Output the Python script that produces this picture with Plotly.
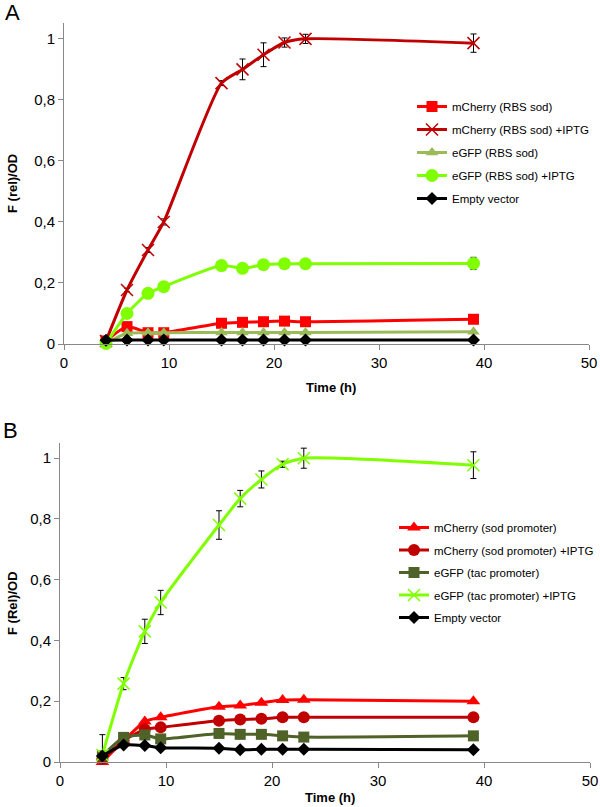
import plotly.graph_objects as go

# ---------------- data ----------------
time_h = [4, 6, 8, 9.5, 15, 17, 19, 21, 23, 39]

# Panel A
a_names = ["mCherry (RBS sod)", "mCherry (RBS sod) +IPTG", "eGFP (RBS sod)",
           "eGFP (RBS sod) +IPTG", "Empty vector"]
a_mcherry = [0.010, 0.057, 0.037, 0.037, 0.068, 0.071, 0.073, 0.075, 0.073, 0.081]
a_mcherry_iptg = [0.010, 0.177, 0.308, 0.400, 0.855, 0.900, 0.948, 0.988, 1.000, 0.986]
a_mcherry_iptg_err = [0.003, 0.006, 0.008, 0.010, 0.008, 0.034, 0.039, 0.015, 0.015, 0.030]
a_egfp = [0.002, 0.035, 0.037, 0.037, 0.038, 0.038, 0.038, 0.038, 0.038, 0.040]
a_egfp_iptg = [0.002, 0.100, 0.166, 0.188, 0.257, 0.248, 0.260, 0.263, 0.263, 0.264]
a_egfp_iptg_err = [0.0, 0.0, 0.0, 0.0, 0.0, 0.0, 0.0, 0.0, 0.0, 0.020]
a_empty = [0.012, 0.013, 0.013, 0.013, 0.013, 0.013, 0.013, 0.013, 0.013, 0.013]

# Panel B
b_names = ["mCherry (sod promoter)", "mCherry (sod promoter) +IPTG", "eGFP (tac promoter)",
           "eGFP (tac promoter) +IPTG", "Empty vector"]
b_mcherry = [0.000, 0.070, 0.133, 0.147, 0.182, 0.186, 0.195, 0.204, 0.205, 0.200]
b_mcherry_iptg = [0.010, 0.070, 0.107, 0.114, 0.136, 0.140, 0.142, 0.147, 0.147, 0.147]
b_egfp = [0.020, 0.081, 0.089, 0.076, 0.094, 0.091, 0.091, 0.086, 0.082, 0.086]
b_egfp_iptg = [0.023, 0.258, 0.430, 0.525, 0.780, 0.867, 0.930, 0.980, 1.000, 0.977]
b_egfp_iptg_err = [0.067, 0.020, 0.040, 0.040, 0.047, 0.027, 0.028, 0.010, 0.033, 0.044]
b_empty = [0.020, 0.056, 0.054, 0.047, 0.045, 0.040, 0.042, 0.042, 0.042, 0.040]

x_ticks = [0, 10, 20, 30, 40, 50]
y_ticks = [0, 0.2, 0.4, 0.6, 0.8, 1]
y_ticktext = ["0", "0,2", "0,4", "0,6", "0,8", "1"]

# ---------------- figure ----------------
W, H = 600, 807
fig = go.Figure()

FONT = "Liberation Sans, Arial, Helvetica, sans-serif"


def add(x, y, name, color, symbol, msize, xa, ya, legend, err=None, mline=None, group=None):
    marker = dict(color=color, size=msize, symbol=symbol)
    if mline:
        marker["line"] = dict(color=color, width=mline)
    kw = {}
    if err is not None:
        kw["error_y"] = dict(type="data", array=err, visible=True, color="black",
                             thickness=1, width=3)
    fig.add_trace(go.Scatter(
        x=x, y=y, name=name, mode="lines+markers",
        line=dict(color=color, width=3, shape="spline", smoothing=0.6),
        marker=marker, xaxis=xa, yaxis=ya, legend=legend,
        legendgroup=group, cliponaxis=False, **kw))


# Panel A traces
add(time_h, a_mcherry, a_names[0], "#FF0000", "square", 11, "x", "y", "legend", group="a0")
add(time_h, a_mcherry_iptg, a_names[1], "#C00000", "x-thin-open", 12, "x", "y", "legend",
    err=a_mcherry_iptg_err, mline=1.5, group="a1")
add(time_h, a_egfp, a_names[2], "#9BBB59", "triangle-up", 11, "x", "y", "legend", group="a2")
add(time_h, a_egfp_iptg, a_names[3], "#7FFF00", "circle", 13, "x", "y", "legend",
    err=a_egfp_iptg_err, group="a3")
add(time_h, a_empty, a_names[4], "#000000", "diamond", 10, "x", "y", "legend", group="a4")

# Panel B traces
add(time_h, b_mcherry, b_names[0], "#FF0000", "triangle-up", 12, "x2", "y2", "legend2", group="b0")
add(time_h, b_mcherry_iptg, b_names[1], "#C00000", "circle", 12, "x2", "y2", "legend2", group="b1")
add(time_h, b_egfp, b_names[2], "#4F6228", "square", 11, "x2", "y2", "legend2", group="b2")
add(time_h, b_egfp_iptg, b_names[3], "#80FF00", "x-thin-open", 12, "x2", "y2", "legend2",
    err=b_egfp_iptg_err, mline=1.5, group="b3")
add(time_h, b_empty, b_names[4], "#000000", "diamond", 10, "x2", "y2", "legend2", group="b4")

axis_common = dict(showgrid=False, zeroline=False, showline=True, linecolor="#888888",
                   linewidth=1, ticks="outside", tickcolor="#888888", ticklen=5,
                   automargin=False,
                   tickfont=dict(family=FONT, size=15, color="black"))


# screen pixel -> paper fractions
def px_x(p):
    return p / W


def px_y(p):
    return 1 - p / H


fig.update_layout(
    width=W, height=H,
    margin=dict(l=0, r=0, t=0, b=0, autoexpand=False),
    paper_bgcolor="white", plot_bgcolor="white",
    showlegend=True,
    xaxis=dict(domain=[px_x(64), px_x(589)], range=[0, 50], tickvals=x_ticks, anchor="y",
               **axis_common),
    yaxis=dict(domain=[px_y(344), px_y(23)], range=[0, 1.052], tickvals=y_ticks,
               ticktext=y_ticktext, anchor="x", **axis_common),
    xaxis2=dict(domain=[px_x(60), px_x(590)], range=[0, 50], tickvals=x_ticks, anchor="y2",
                **axis_common),
    yaxis2=dict(domain=[px_y(762), px_y(443)], range=[0, 1.05], tickvals=y_ticks,
                ticktext=y_ticktext, anchor="x2", **axis_common),
    legend=dict(x=px_x(412), y=px_y(92), xanchor="left", yanchor="top",
                font=dict(family=FONT, size=11.5, color="black"),
                bgcolor="rgba(0,0,0,0)", tracegroupgap=4, traceorder="grouped",
                itemwidth=30),
    legend2=dict(x=px_x(394), y=px_y(513), xanchor="left", yanchor="top",
                 font=dict(family=FONT, size=11.5, color="black"),
                 bgcolor="rgba(0,0,0,0)", tracegroupgap=3.5, traceorder="grouped",
                 itemwidth=30),
)

ann_font_b = dict(family=FONT, size=13, color="black")
annotations = [
    dict(text="<b>F (rel)/OD</b>", x=px_x(12), y=px_y(184), textangle=-90, font=ann_font_b),
    dict(text="<b>Time (h)</b>", x=px_x(331), y=px_y(387), font=ann_font_b),
    dict(text="<b>F (Rel)/OD</b>", x=px_x(12), y=px_y(603), textangle=-90, font=ann_font_b),
    dict(text="<b>Time (h)</b>", x=px_x(330), y=px_y(797), font=ann_font_b),
    dict(text="A", x=px_x(12), y=px_y(13), font=dict(family=FONT, size=22, color="black")),
    dict(text="B", x=px_x(10), y=px_y(430), font=dict(family=FONT, size=22, color="black")),
]
for a in annotations:
    a.update(xref="paper", yref="paper", showarrow=False, xanchor="center", yanchor="middle")
fig.update_layout(annotations=annotations)

# remove the default 8px page margin so the 600x807 figure fills the window exactly
fig.write_html("out.html",
               config={"displayModeBar": False},
               post_script="document.body.style.margin='0';document.body.style.overflow='hidden';")
